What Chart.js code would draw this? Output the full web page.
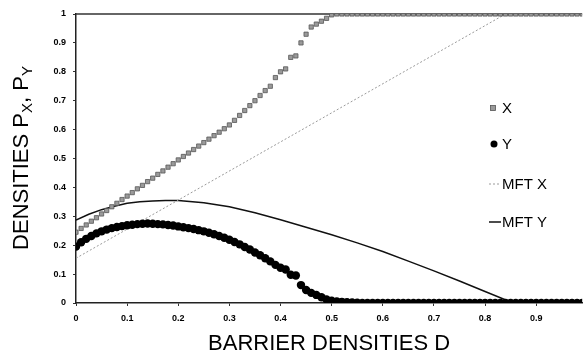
<!DOCTYPE html>
<html>
<head>
<meta charset="utf-8">
<script src="https://cdn.jsdelivr.net/npm/chart.js@4.4.1/dist/chart.umd.min.js"></script>
<style>
  html, body { margin: 0; padding: 0; background: #fff; }
  #wrap { width: 587px; height: 353px; }
</style>
</head>
<body>
<div id="wrap"><canvas id="chart" width="587" height="353"></canvas></div>
<script>
// barrier density grid of the simulation points
const densD = [
  0.00, 0.01, 0.02, 0.03, 0.04, 0.05, 0.06, 0.07, 0.08, 0.09,
  0.10, 0.11, 0.12, 0.13, 0.14, 0.15, 0.16, 0.17, 0.18, 0.19,
  0.20, 0.21, 0.22, 0.23, 0.24, 0.25, 0.26, 0.27, 0.28, 0.29,
  0.30, 0.31, 0.32, 0.33, 0.34, 0.35, 0.36, 0.37, 0.38, 0.39,
  0.40, 0.41, 0.42, 0.43, 0.44, 0.45, 0.46, 0.47, 0.48, 0.49,
  0.50, 0.51, 0.52, 0.53, 0.54, 0.55, 0.56, 0.57, 0.58, 0.59,
  0.60, 0.61, 0.62, 0.63, 0.64, 0.65, 0.66, 0.67, 0.68, 0.69,
  0.70, 0.71, 0.72, 0.73, 0.74, 0.75, 0.76, 0.77, 0.78, 0.79,
  0.80, 0.81, 0.82, 0.83, 0.84, 0.85, 0.86, 0.87, 0.88, 0.89,
  0.90, 0.91, 0.92, 0.93, 0.94, 0.95, 0.96, 0.97, 0.98, 0.99
];

const xDens = [
  0.245, 0.258, 0.270, 0.283, 0.295, 0.308, 0.320, 0.333, 0.345, 0.358,
  0.370, 0.382, 0.395, 0.407, 0.420, 0.432, 0.445, 0.457, 0.470, 0.482,
  0.495, 0.507, 0.519, 0.531, 0.543, 0.555, 0.567, 0.579, 0.591, 0.603,
  0.616, 0.632, 0.649, 0.666, 0.683, 0.700, 0.718, 0.735, 0.750, 0.780,
  0.800, 0.810, 0.850, 0.855, 0.900, 0.930, 0.955, 0.965, 0.975, 0.985,
  0.997, 1, 1, 1, 1, 1, 1, 1, 1, 1,
  1, 1, 1, 1, 1, 1, 1, 1, 1, 1,
  1, 1, 1, 1, 1, 1, 1, 1, 1, 1,
  1, 1, 1, 1, 1, 1, 1, 1, 1, 1,
  1, 1, 1, 1, 1, 1, 1, 1, 1, 1
];

const yDens = [
  0.195, 0.210, 0.222, 0.232, 0.241, 0.248, 0.254, 0.259, 0.263, 0.266,
  0.269, 0.271, 0.273, 0.274, 0.275, 0.274, 0.273, 0.272, 0.270, 0.268,
  0.265, 0.262, 0.259, 0.256, 0.252, 0.248, 0.243, 0.238, 0.232, 0.226,
  0.219, 0.211, 0.203, 0.194, 0.185, 0.175, 0.165, 0.155, 0.144, 0.132,
  0.122, 0.116, 0.098, 0.095, 0.062, 0.045, 0.035, 0.028, 0.020, 0.012,
  0.008, 0.005, 0.004, 0.003, 0.002, 0.001, 0, 0, 0, 0,
  0, 0, 0, 0, 0, 0, 0, 0, 0, 0,
  0, 0, 0, 0, 0, 0, 0, 0, 0, 0,
  0, 0, 0, 0, 0, 0, 0, 0, 0, 0,
  0, 0, 0, 0, 0, 0, 0, 0, 0, 0
];

// mean field theory curves
const mftXD = [0, 0.84, 0.99];
const mftXVal = [0.155, 1, 1];

const mftYD = [0, 0.025, 0.05, 0.075, 0.10, 0.125, 0.15, 0.175, 0.20, 0.25, 0.30, 0.35, 0.40, 0.45,
               0.50, 0.55, 0.60, 0.65, 0.70, 0.75, 0.80, 0.855, 0.99];
const mftYVal = [0.287, 0.307, 0.323, 0.335, 0.345, 0.350, 0.353, 0.355, 0.355, 0.347, 0.333, 0.312, 0.288, 0.262,
                 0.236, 0.208, 0.178, 0.145, 0.111, 0.076, 0.040, 0, 0];

const seriesNames = ['X', 'Y', 'MFT X', 'MFT Y'];
const xTickVals = [0, 0.1, 0.2, 0.3, 0.4, 0.5, 0.6, 0.7, 0.8, 0.9];

const pairs = (xs, ys) => xs.map((x, i) => ({ x: x, y: ys[i] }));

// frame line, axis titles (with subscripts) and the legend
const decor = {
  id: 'decor',
  beforeDatasetsDraw(chart) {
    const { ctx, chartArea: a } = chart;
    ctx.save();
    ctx.strokeStyle = '#333';
    ctx.lineWidth = 1.5;
    ctx.beginPath();
    ctx.moveTo(a.left, a.top);
    ctx.lineTo(a.right, a.top);
    ctx.stroke();
    ctx.restore();
  },
  afterDraw(chart) {
    const { ctx, chartArea: a } = chart;
    ctx.save();
    ctx.fillStyle = '#000';
    ctx.textBaseline = 'alphabetic';

    // x title
    ctx.font = '22px "Liberation Sans", Arial, sans-serif';
    ctx.textAlign = 'center';
    ctx.fillText('BARRIER DENSITIES D', (a.left + a.right) / 2, 350);

    // y title, rotated, with subscripts
    const big = '22px "Liberation Sans", Arial, sans-serif';
    const small = '15px "Liberation Sans", Arial, sans-serif';
    const parts = [['DENSITIES P', big, 0], ['X', small, 4], [', P', big, 0], ['Y', small, 4]];
    let total = 0;
    parts.forEach(p => { ctx.font = p[1]; total += ctx.measureText(p[0]).width; });
    ctx.translate(28, 158);
    ctx.rotate(-Math.PI / 2);
    ctx.textAlign = 'left';
    let px = -total / 2;
    parts.forEach(p => {
      ctx.font = p[1];
      ctx.fillText(p[0], px, p[2]);
      px += ctx.measureText(p[0]).width;
    });
    ctx.setTransform(1, 0, 0, 1, 0, 0);

    // legend
    const rows = [108, 144, 184, 222];
    const ds = chart.data.datasets;
    ctx.font = '15px "Liberation Sans", Arial, sans-serif';
    ctx.textAlign = 'left';
    ctx.textBaseline = 'middle';
    rows.forEach((ly, i) => {
      const d = ds[i];
      if (i === 0) {
        ctx.fillStyle = d.backgroundColor;
        ctx.strokeStyle = d.borderColor;
        ctx.lineWidth = 0.8;
        ctx.fillRect(490.5, ly - 2.5, 5, 5);
        ctx.strokeRect(490.5, ly - 2.5, 5, 5);
      } else if (i === 1) {
        ctx.fillStyle = '#000';
        ctx.beginPath();
        ctx.arc(494, ly, 3.5, 0, Math.PI * 2);
        ctx.fill();
      } else {
        ctx.strokeStyle = d.borderColor;
        ctx.lineWidth = d.borderWidth;
        ctx.setLineDash(d.borderDash || []);
        ctx.beginPath();
        ctx.moveTo(489, ly);
        ctx.lineTo(501, ly);
        ctx.stroke();
        ctx.setLineDash([]);
      }
      ctx.fillStyle = '#000';
      ctx.fillText(d.label, 502, ly + 1);
    });
    ctx.restore();
  }
};

new Chart('chart', {
  type: 'scatter',
  data: {
    datasets: [
      {
        label: seriesNames[0],
        data: pairs(densD, xDens),
        pointStyle: 'rect',
        pointRadius: 3,
        backgroundColor: '#9a9a9a',
        borderColor: '#555',
        borderWidth: 0.8,
        showLine: false,
      },
      {
        label: seriesNames[1],
        data: pairs(densD, yDens),
        pointStyle: 'circle',
        pointRadius: 4.2,
        backgroundColor: '#000',
        borderColor: '#000',
        borderWidth: 0,
        showLine: false,
      },
      {
        label: seriesNames[2],
        data: pairs(mftXD, mftXVal),
        showLine: true,
        pointRadius: 0,
        borderColor: '#9a9a9a',
        borderWidth: 1,
        borderDash: [2, 2],
      },
      {
        label: seriesNames[3],
        data: pairs(mftYD, mftYVal),
        showLine: true,
        pointRadius: 0,
        borderColor: '#111',
        borderWidth: 1.5,
        tension: 0,
      },
    ],
  },
  options: {
    animation: false,
    responsive: false,
    layout: { padding: { top: 14, right: 2, left: 0, bottom: 0 } },
    plugins: {
      legend: { display: false },
      tooltip: { enabled: false },
    },
    scales: {
      x: {
        type: 'linear',
        min: 0,
        max: 0.99,
        afterFit: (s) => { s.height = 50; },
        afterBuildTicks: (s) => { s.ticks = xTickVals.map(v => ({ value: v })); },
        ticks: {
          padding: 7,
          color: '#000',
          font: { family: '"Liberation Sans", Arial, sans-serif', size: 9, weight: 'bold' },
          callback: (v) => String(Math.round(v * 10) / 10),
        },
        grid: { drawOnChartArea: false, drawTicks: true, tickLength: 3, color: '#333' },
        border: { color: '#222', width: 1.5 },
      },
      y: {
        min: 0,
        max: 1,
        afterFit: (s) => { s.width = 76; },
        ticks: {
          stepSize: 0.1,
          padding: 7,
          color: '#000',
          font: { family: '"Liberation Sans", Arial, sans-serif', size: 9, weight: 'bold' },
          callback: (v) => String(Math.round(v * 10) / 10),
        },
        grid: { drawOnChartArea: false, drawTicks: true, tickLength: 3, color: '#333' },
        border: { color: '#222', width: 1.5 },
      },
    },
  },
  plugins: [decor],
});
</script>
</body>
</html>
